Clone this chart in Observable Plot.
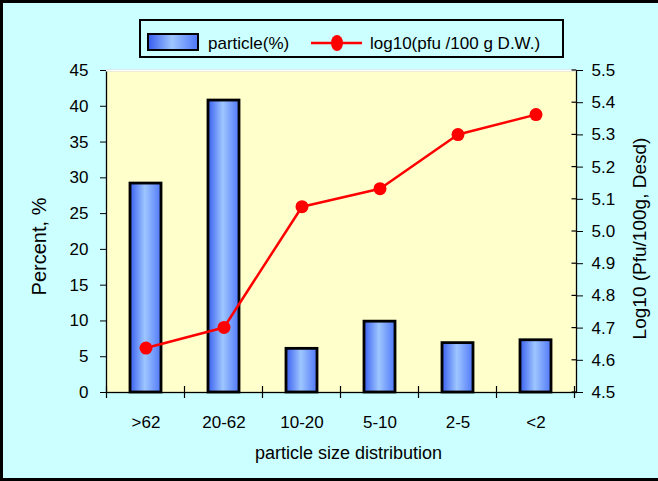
<!DOCTYPE html>
<html><head><meta charset="utf-8">
<script src="https://cdn.jsdelivr.net/npm/d3@7"></script>
<script src="https://cdn.jsdelivr.net/npm/@observablehq/plot@0.6"></script>
<style>
body{margin:0;background:#fff;}
#chart{position:relative;width:658px;height:481px;box-sizing:border-box;background:#ccffff;border-left:3px solid #000;border-top:3px solid #000;border-bottom:3px solid #000;font-family:"Liberation Sans",Arial,sans-serif;overflow:hidden;}
#legend{position:relative;margin-left:136px;margin-top:16px;width:425px;height:39px;box-sizing:border-box;border:2px solid #000;background:#ccffff;}
#legend .sw{position:absolute;left:6px;top:12px;width:52px;height:18px;box-sizing:border-box;border:2px solid #000;background:linear-gradient(to right,#3a60f0,#9ec6ff 48%,#5078f8);}
#legend .t{position:absolute;top:14px;font-size:17px;line-height:17px;color:#000;white-space:nowrap;}
#legend svg{position:absolute;left:170px;top:12px;}
#chart > svg{display:block;}
</style>
</head><body>
<div id="chart">
  <div id="legend">
    <div class="sw"></div>
    <span class="t" style="left:67px">particle(%)</span>
    <svg width="51" height="20"><line x1="0" x2="51" y1="10" y2="10" stroke="#ff0000" stroke-width="2.5"/><ellipse cx="26" cy="10" rx="6" ry="8" fill="#ff0000"/></svg>
    <span class="t" style="left:229px">log10(pfu /100 g D.W.)</span>
  </div>
</div>
<script>
const categories = [">62", "20-62", "10-20", "5-10", "2-5", "<2"];
const particlePct = [29.2, 40.8, 6.1, 9.9, 6.9, 7.3];
const logPfu = [4.638, 4.702, 5.077, 5.133, 5.301, 5.363];
const leftTicks = [0, 5, 10, 15, 20, 25, 30, 35, 40, 45];
const rightTickLabels = ["4.5", "4.6", "4.7", "4.8", "4.9", "5.0", "5.1", "5.2", "5.3", "5.4", "5.5"];
const leftDomain = [0, 45];
const rightDomain = [4.5, 5.5];

const toLeft = v => (v - rightDomain[0]) / (rightDomain[1] - rightDomain[0]) * (leftDomain[1] - leftDomain[0]) + leftDomain[0];
const rightPos = rightTickLabels.map(s => toLeft(+s));

const data = categories.map((c, i) => ({cat: c, pct: particlePct[i], log: logPfu[i], logY: toLeft(logPfu[i])}));

function decor(index, scales, values, dimensions) {
  const {x, y} = scales;
  const bw = typeof x.bandwidth === "function" ? x.bandwidth() : x.bandwidth;
  const step = x(categories[1]) - x(categories[0]);
  const half = (step - bw) / 2;
  const bounds = categories.map(c => x(c) - half).concat([x(categories[categories.length - 1]) + bw + half]);
  const y0 = y(0);
  const g = d3.create("svg:g").attr("stroke", "black").attr("stroke-width", 1.2);
  g.selectAll(null).data(bounds).join("line")
    .attr("x1", d => d).attr("x2", d => d).attr("y1", y0 - 6).attr("y2", y0 + 6);
  const xr = dimensions.width - dimensions.marginRight;
  g.selectAll(null).data(rightPos).join("line")
    .attr("x1", xr - 4.5).attr("x2", xr).attr("y1", d => y(d)).attr("y2", d => y(d));
  return g.node();
}

const font = "'Liberation Sans', Arial, sans-serif";
const plot = Plot.plot({
  width: 655,
  height: 420,
  marginTop: 12,
  marginBottom: 86,
  marginLeft: 103,
  marginRight: 82,
  style: {fontFamily: font, background: "transparent", color: "black", overflow: "visible"},
  x: {domain: categories, paddingInner: 0.6, paddingOuter: 0.3, label: null},
  y: {domain: leftDomain, label: null},
  marks: [
    Plot.frame({fill: "#ffffcc"}),
    Plot.barY(data, {x: "cat", y: "pct", fill: "url(#barGrad)", stroke: "black", strokeWidth: 2.8}),
    Plot.frame({stroke: "black", strokeWidth: 1.3}),
    Plot.ruleY([leftDomain[1]], {stroke: "white", strokeWidth: 2}),
    Plot.line(data, {x: "cat", y: "logY", stroke: "#ff0000", strokeWidth: 2.5}),
    Plot.dot(data, {x: "cat", y: "logY", r: 6.5, fill: "#ff0000", stroke: null}),
    Plot.axisY({anchor: "left", ticks: leftTicks, tickSize: 6, tickPadding: 12, fontSize: 17, label: null}),
    Plot.axisY({anchor: "right", ticks: rightPos, tickFormat: d => rightTickLabels[rightPos.indexOf(d)], tickSize: 6, tickPadding: 9, fontSize: 17, label: null}),
    Plot.axisX({tickSize: 0, tickPadding: 23, fontSize: 17, label: null}),
    decor,
    Plot.text(["particle size distribution"], {frameAnchor: "bottom", textAnchor: "middle", dy: 66, dx: 7, fontSize: 18, fill: "black"}),
    Plot.text(["Percent, %"], {frameAnchor: "left", textAnchor: "middle", rotate: -90, dx: -67, dy: 15, fontSize: 20, fill: "black"}),
    Plot.text(["Log10 (Pfu/100g, Desd)"], {frameAnchor: "right", textAnchor: "middle", rotate: -90, dx: 63, dy: 7, fontSize: 19, fill: "black"})
  ]
});

const defs = d3.select(plot).insert("defs", ":first-child");
const grad = defs.append("linearGradient").attr("id", "barGrad").attr("x1", "0").attr("x2", "1").attr("y1", "0").attr("y2", "0");
grad.append("stop").attr("offset", "0").attr("stop-color", "#3a60f0");
grad.append("stop").attr("offset", "0.48").attr("stop-color", "#9ec6ff");
grad.append("stop").attr("offset", "1").attr("stop-color", "#5078f8");

document.getElementById("chart").appendChild(plot);
</script>
</body></html>
